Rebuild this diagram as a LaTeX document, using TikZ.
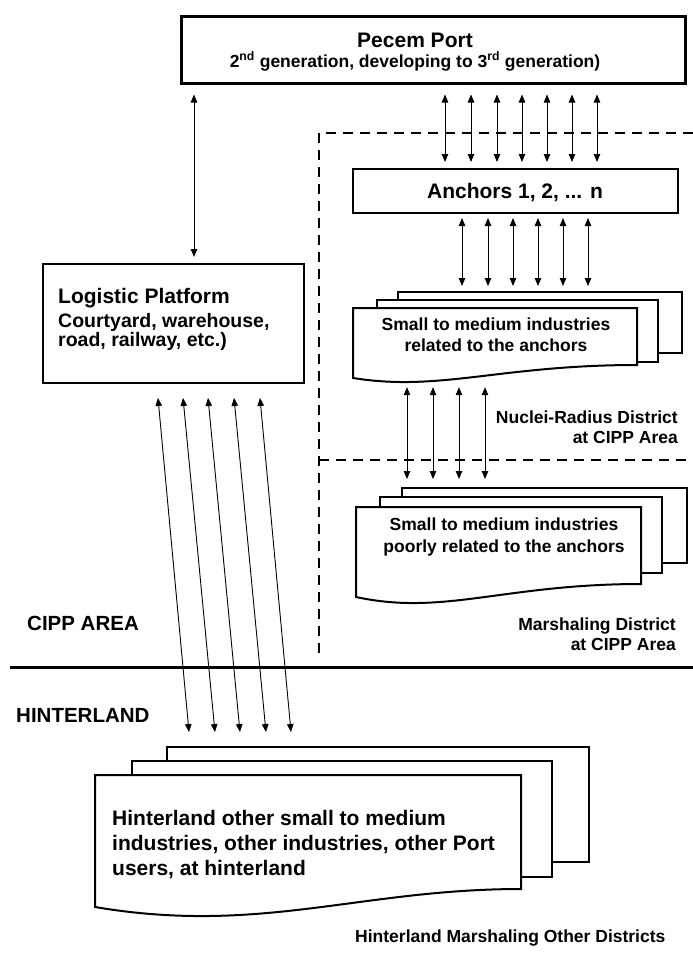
\documentclass[tikz,border=0pt]{standalone}
\usepackage{fontspec}
\setmainfont{Liberation Sans}
\usetikzlibrary{arrows.meta}
\begin{document}
\begin{tikzpicture}[x=1pt,y=-1pt,
  box/.style={draw, line width=2pt, fill=white, inner sep=0pt},
  page/.style={draw, line width=2pt, fill=white, inner sep=0pt, line join=miter},
  biarr/.style={{Triangle[length=8pt,width=6.5pt]}-{Triangle[length=8pt,width=6.5pt]}, line width=0.9pt},
  zone/.style={dash pattern=on 10pt off 7pt, line width=1.5pt},
  tbig/.style={font=\fontsize{21}{25}\selectfont\bfseries, inner sep=0pt},
  tmid/.style={font=\fontsize{19.5}{22}\selectfont\bfseries, inner sep=0pt},
  tsmall/.style={font=\fontsize{17.5}{21}\selectfont\bfseries, inner sep=0pt},
  tarea/.style={font=\fontsize{20.5}{24}\selectfont\bfseries, inner sep=0pt}]
\useasboundingbox (0,0) rectangle (693,956);

% zone boundaries
\draw[zone] (693,133) -- (319,133) -- (319,655);
\draw[zone] (319,460) -- (693,460);
\draw[line width=3pt] (10,667) -- (693,667);

% Pecem Port
\node[box, line width=3pt, minimum width=504pt, minimum height=67pt] (pecem) at (433,49.5) {};
\node[tbig, anchor=base] (pecemT) at (415,47) {Pecem Port};
\node[tsmall, anchor=base] (pecemS) at (415,67) {2\textsuperscript{nd} generation, developing to 3\textsuperscript{rd} generation)};

% Anchors
\node[box, minimum width=325pt, minimum height=44pt] (anchors) at (515.5,191) {};
\node[tbig, anchor=base] (anchorsT) at (515,198) {Anchors 1, 2, ... n};

% Logistic platform
\node[box, minimum width=261pt, minimum height=119pt] (logistic) at (173.5,323.5) {};
\node[tbig, anchor=base west] (lp1) at (58,303) {Logistic Platform};
\node[tmid, anchor=base west] (lp2) at (58,327) {Courtyard, warehouse,};
\node[tmid, anchor=base west] (lp3) at (58,346) {road, railway, etc.)};

% SMI related stack
\node[page, minimum width=284pt, minimum height=61pt] (smiAback) at (540,322.5) {};
\node[page, minimum width=281pt, minimum height=62pt] (smiAmid) at (517.5,331) {};
\node[inner sep=0pt, minimum width=284pt, minimum height=57pt] (smiAfront) at (495,336.5) {};
\draw[page] (353,308) -- (637,308) -- (637,365) .. controls (500,365) and (440,392) .. (353,378) -- cycle;
\node[tsmall, anchor=base] (smiA1) at (496,330) {Small to medium industries};
\node[tsmall, anchor=base] (smiA2) at (496,351) {related to the anchors};

% SMI poorly related stack
\node[page, minimum width=285pt, minimum height=75pt] (smiBback) at (544.5,525.5) {};
\node[page, minimum width=282pt, minimum height=76pt] (smiBmid) at (521,535) {};
\node[inner sep=0pt, minimum width=285pt, minimum height=77pt] (smiBfront) at (498.5,545.5) {};
\draw[page] (356,507) -- (641,507) -- (641,584) .. controls (504,584) and (444,616) .. (356,597) -- cycle;
\node[tsmall, anchor=base] (smiB1) at (504,530) {Small to medium industries};
\node[tsmall, anchor=base] (smiB2) at (504,552) {poorly related to the anchors};

% Hinterland stack
\node[page, minimum width=422pt, minimum height=115pt] (hback) at (378,804.5) {};
\node[page, minimum width=420pt, minimum height=116pt] (hmid) at (342,819) {};
\node[inner sep=0pt, minimum width=426pt, minimum height=114pt] (hfront) at (308,832) {};
\draw[page] (95,775) -- (521,775) -- (521,889) .. controls (360,889) and (260,935) .. (95,907) -- cycle;
\node[tbig, anchor=base west] (ht1) at (112,825) {Hinterland other small to medium};
\node[tbig, anchor=base west] (ht2) at (112,850) {industries, other industries, other Port};
\node[tbig, anchor=base west] (ht3) at (112,875) {users, at hinterland};

% labels
\node[tsmall, anchor=base east] (nr1) at (678,423) {Nuclei-Radius District};
\node[tsmall, anchor=base east] (nr2) at (678,443) {at CIPP Area};
\node[tsmall, anchor=base east] (md1) at (676,630) {Marshaling District};
\node[tsmall, anchor=base east] (md2) at (676,650) {at CIPP Area};
\node[tarea, anchor=base west] (cipp) at (27,630) {CIPP AREA};
\node[tarea, anchor=base west] (hinter) at (16,722) {HINTERLAND};
\node[tsmall, anchor=base west] (hmod) at (355,942) {Hinterland Marshaling Other Districts};

% connectors
\draw[biarr, shorten <=10pt, shorten >=6pt] (pecem.south -| 194,0) -- (logistic.north -| 194,0);
\foreach \x in {445,471,497,522,547,572,597}
  \draw[biarr, shorten <=10pt, shorten >=6pt] (pecem.south -| \x,0) -- (anchors.north -| \x,0);
\foreach \x in {462,488,513,538,563,588}
  \draw[biarr, shorten <=4pt, shorten >=5pt] (anchors.south -| \x,0) -- (smiAback.north -| \x,0);
\foreach \x in {407,433,459,485}
  \draw[biarr, shorten <=22pt, shorten >=8pt] (smiAfront.south -| \x,0) -- (smiBback.north -| \x,0);
\foreach \a/\b in {156.7/190.3,181.7/216.3,206.7/241.3,232.7/267.3,258.7/292.3}
  \draw[biarr, shorten <=14pt, shorten >=14pt] (logistic.south -| \a,0) -- (hback.north -| \b,0);
\end{tikzpicture}
\end{document}
